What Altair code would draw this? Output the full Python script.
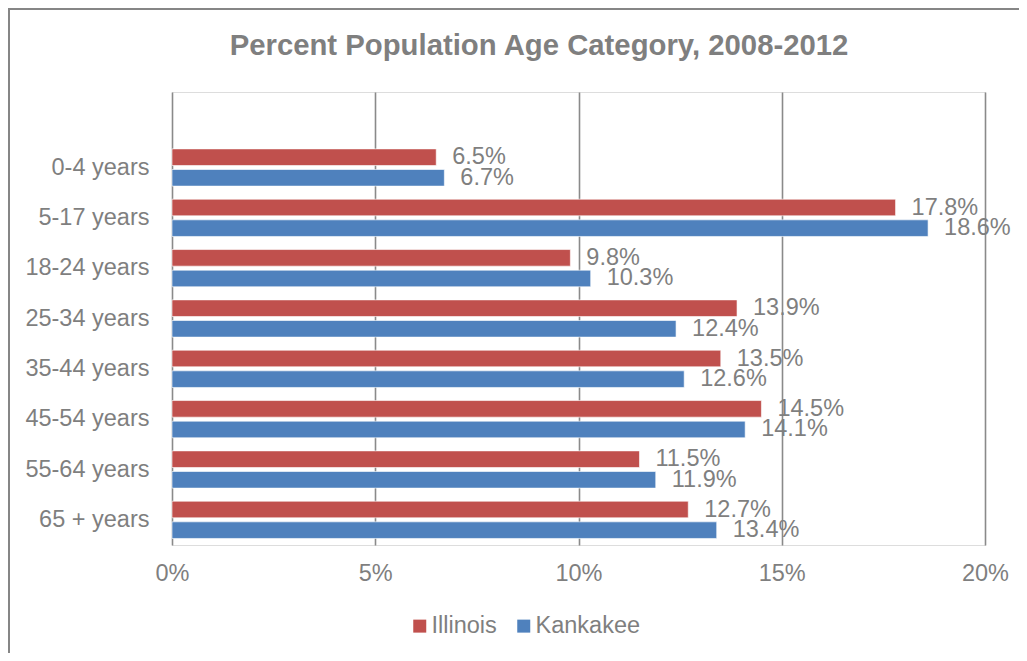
import altair as alt
import pandas as pd

categories = ["0-4 years", "5-17 years", "18-24 years", "25-34 years",
              "35-44 years", "45-54 years", "55-64 years", "65 + years"]
illinois = [6.5, 17.8, 9.8, 13.9, 13.5, 14.5, 11.5, 12.7]
kankakee = [6.7, 18.6, 10.3, 12.4, 12.6, 14.1, 11.9, 13.4]
series = ["Illinois", "Kankakee"]
colors = ["#C0504D", "#4F81BD"]
x_ticks = [0, 5, 10, 15, 20]
title_text = "Percent Population Age Category, 2008-2012"

rows = []
for c, a, b in zip(categories, illinois, kankakee):
    rows.append({"cat": c, "series": "Illinois", "value": a})
    rows.append({"cat": c, "series": "Kankakee", "value": b})
df = pd.DataFrame(rows)

FONT = "Liberation Sans"
GRAY = "#7f7f7f"
FS = 23.5

y_domain = [" "] + categories

y_enc = alt.Y("cat:N", scale=alt.Scale(domain=y_domain, paddingInner=0.26, paddingOuter=0.13),
              axis=alt.Axis(title=None, domain=False, ticks=False, labelPadding=23,
                            labelFontSize=FS, labelFont=FONT, labelColor=GRAY))
yoff = alt.YOffset("series:N", scale=alt.Scale(domain=series, paddingInner=0.195, paddingOuter=0))
x_enc = alt.X("value:Q", scale=alt.Scale(domain=[0, 20], nice=False),
              axis=alt.Axis(title=None, values=x_ticks, domain=False, ticks=False,
                            labelExpr="datum.value + '%'", labelPadding=16, labelFlush=False,
                            labelFontSize=FS, labelFont=FONT, labelColor=GRAY,
                            grid=True, gridColor="#8a8a8a", gridWidth=1.6))

base = alt.Chart(df)

bars = base.mark_bar(stroke="white", strokeWidth=0.6).encode(
    y=y_enc, yOffset=yoff, x=x_enc,
    color=alt.Color("series:N", scale=alt.Scale(domain=series, range=colors),
                    legend=alt.Legend(title=None, orient="none", direction="horizontal",
                                      legendX=236, legendY=522, symbolType="square",
                                      symbolSize=169, symbolStrokeWidth=0,
                                      labelFontSize=FS, labelFont=FONT, labelColor=GRAY,
                                      labelOffset=0, columnPadding=15, padding=0))
)

labels = base.mark_text(align="left", baseline="middle", dx=16, font=FONT,
                        fontSize=FS, color=GRAY).transform_calculate(
    label="format(datum.value, '.1f') + '%'"
).encode(y=alt.Y("cat:N", scale=alt.Scale(domain=y_domain)), yOffset=yoff,
         x=alt.X("value:Q"), text="label:N")

one = pd.DataFrame({"k": [0]})
frame_left = alt.Chart(one).mark_rule(color="#868686", strokeWidth=2).encode(
    x=alt.value(-163), y=alt.value(-84), y2=alt.value(700))
frame_top = alt.Chart(one).mark_rule(color="#868686", strokeWidth=2).encode(
    x=alt.value(-164), x2=alt.value(900), y=alt.value(-83))
title = alt.Chart(pd.DataFrame({"t": [title_text]})).mark_text(
    font=FONT, fontSize=29.3, fontWeight="bold", color=GRAY, align="center",
    baseline="alphabetic").encode(x=alt.value(367), y=alt.value(-37), text="t:N")

chart = alt.layer(frame_left, frame_top, title, bars, labels).properties(
    width=813, height=453,
    autosize=alt.AutoSizeParams(type="none"),
    padding={"left": 164, "top": 84, "right": 34, "bottom": 108},
).configure_view(stroke=None).configure(background="white")

chart.save("out.html", embed_options={"renderer": "svg", "actions": False})
